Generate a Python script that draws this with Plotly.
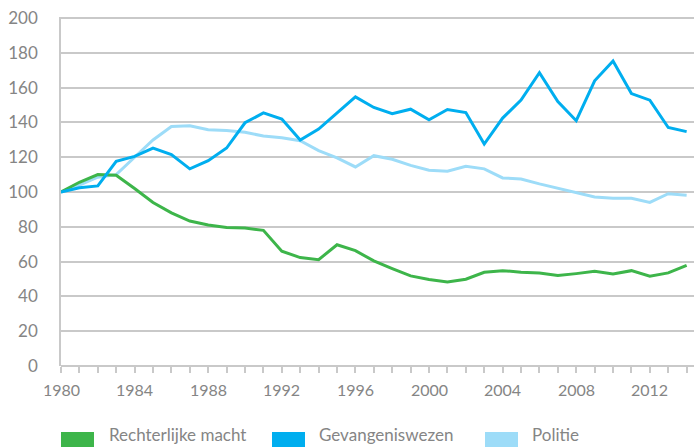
import plotly.graph_objects as go

years = list(range(1980, 2015))
rechterlijke_macht = [100, 105.6, 110, 109.6, 102, 94, 88, 83.3, 81, 79.6,
                      79.3, 78, 66, 62.3, 61.1, 69.7, 66.3, 60.4, 56, 51.8,
                      49.7, 48.3, 49.9, 53.9, 54.8, 53.9, 53.5, 52, 53.1, 54.4,
                      52.9, 54.8, 51.6, 53.5, 57.9]
gevangeniswezen = [100, 102.4, 103.5, 117.6, 120.5, 125.3, 121.5, 113.3, 118, 125.3,
                   139.8, 145.5, 141.9, 129.9, 136.2, 145.7, 154.7, 148.6, 145, 147.6,
                   141.5, 147.4, 145.7, 127.6, 142.5, 152.8, 168.6, 152, 141, 163.9,
                   175.3, 156.6, 152.8, 137.1, 134.7]
politie = [100, 104, 108.5, 110, 120, 129.9, 137.7, 138.1, 135.8, 135.4,
           134.3, 132.2, 131.2, 129.5, 123.8, 119.6, 114.4, 120.9, 118.8, 115.3,
           112.5, 111.9, 114.8, 113.3, 108.1, 107.5, 104.7, 102.2, 99.3, 97.2,
           96.4, 96.4, 94, 99, 98.2]
series_names = ["Rechterlijke macht", "Gevangeniswezen", "Politie"]
colors = ["#3db54a", "#00aeef", "#9ddcf8"]
y_ticks = list(range(0, 201, 20))
x_ticks = list(range(1980, 2013, 4))

GRID = "#c9c9c9"
TXT = "#858585"
FONT = "Lato"

fig = go.Figure()
fig.add_trace(go.Scatter(x=years, y=politie, mode="lines", name=series_names[2],
                         line=dict(color=colors[2], width=3), showlegend=False))
fig.add_trace(go.Scatter(x=years, y=rechterlijke_macht, mode="lines", name=series_names[0],
                         line=dict(color=colors[0], width=3), showlegend=False))
fig.add_trace(go.Scatter(x=years, y=gevangeniswezen, mode="lines", name=series_names[1],
                         line=dict(color=colors[1], width=3), showlegend=False))

pw, ph = 633, 349

# x tick labels placed through the x scale
for yr in x_ticks:
    fig.add_annotation(xref="x", yref="paper", x=yr, y=(366 - 389) / ph,
                       text=str(yr), showarrow=False, xanchor="center", yanchor="middle",
                       borderpad=0, font=dict(family=FONT, size=16, color=TXT))

# manual legend (rect swatches + text), placed below the plot
legend_x = [(61, 108), (272, 318), (485, 531)]
for (rx, tx), name, col in zip(legend_x, series_names, colors):
    x0 = (rx - 61) / pw
    x1 = (rx + 33 - 61) / pw
    fig.add_shape(type="rect", xref="paper", yref="paper",
                  x0=x0, x1=x1, y0=(366 - 447) / ph, y1=(366 - 432) / ph,
                  fillcolor=col, line=dict(width=0))
    fig.add_annotation(xref="paper", yref="paper", x=(tx - 61) / pw, y=(366 - 446) / ph,
                       text=name, showarrow=False, xanchor="left", yanchor="bottom",
                       borderpad=0,
                       font=dict(family=FONT, size=17, color=TXT))

fig.update_layout(
    width=694, height=447,
    margin=dict(l=61, r=0, t=17, b=81),
    paper_bgcolor="white", plot_bgcolor="white",
    font=dict(family=FONT, size=16, color=TXT),
    showlegend=False,
)
fig.update_xaxes(
    range=[1980, 2014.4], tickvals=x_ticks, showticklabels=False,
    showgrid=False, zeroline=False, showline=False,
    ticks="outside", ticklen=6, tickcolor=GRID, tickwidth=1.5,
    minor=dict(dtick=1, tick0=1980, ticks="outside", ticklen=6, tickcolor=GRID, tickwidth=1.5, showgrid=False),
    automargin=False,
)
fig.update_yaxes(
    range=[0, 200.6], tickvals=y_ticks,
    showgrid=True, gridcolor=GRID, gridwidth=1.5,
    zeroline=True, zerolinecolor=GRID, zerolinewidth=1.5,
    showline=True, linecolor=GRID, linewidth=1.5,
    ticks="", ticklabelstandoff=18, automargin=False,
    tickfont=dict(family=FONT, size=17, color=TXT),
)

fig.write_html("out.html", config={"displayModeBar": False},
               post_script="document.body.style.margin='0';")
